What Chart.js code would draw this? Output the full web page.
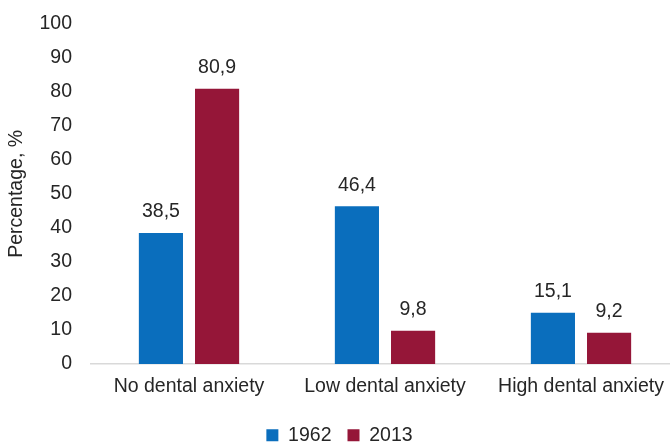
<!DOCTYPE html>
<html>
<head>
<meta charset="utf-8">
<script src="https://cdn.jsdelivr.net/npm/chart.js@4.4.0/dist/chart.umd.min.js"></script>
<style>
  html, body { margin: 0; padding: 0; background: #fff; }
  #wrap { width: 670px; height: 445px; overflow: hidden; }
  #c { display: block; margin-top: -7px; }
</style>
</head>
<body>
<!-- the source chart is cut off on the right edge, so draw a bit larger and clip -->
<div id="wrap"><canvas id="c" width="679" height="462"></canvas></div>
<script>
// Dental anxiety by group, 1962 vs 2013
const categories = ['No dental anxiety', 'Low dental anxiety', 'High dental anxiety'];
const years = ['1962', '2013'];
const values1962 = [38.5, 46.4, 15.1];
const values2013 = [80.9, 9.8, 9.2];
const yTicks = [0, 10, 20, 30, 40, 50, 60, 70, 80, 90, 100];

const FONT = 'Liberation Sans, Arial, sans-serif';
const FS = 19.5;

// value labels above bars (comma decimal)
const barLabels = {
    id: 'barLabels',
    afterDatasetsDraw(chart) {
        const ctx = chart.ctx;
        ctx.save();
        ctx.font = FS + 'px ' + FONT;
        ctx.fillStyle = '#262626';
        ctx.textAlign = 'center';
        ctx.textBaseline = 'middle';
        chart.data.datasets.forEach((ds, i) => {
            chart.getDatasetMeta(i).data.forEach((bar, j) => {
                const txt = ds.data[j].toFixed(1).replace('.', ',');
                ctx.fillText(txt, bar.x, bar.y - 21);
            });
        });
        ctx.restore();
    }
};

new Chart(document.getElementById('c'), {
    type: 'bar',
    data: {
        labels: categories,
        datasets: [
            { label: years[0], data: values1962, backgroundColor: '#0A6EBD' },
            { label: years[1], data: values2013, backgroundColor: '#951638' }
        ]
    },
    options: {
        responsive: false,
        animation: false,
        layout: { padding: 0 },
        datasets: { bar: { categoryPercentage: 0.573, barPercentage: 0.786 } },
        plugins: {
            legend: {
                position: 'bottom',
                labels: {
                    boxWidth: 12, boxHeight: 12, padding: 16,
                    color: '#262626',
                    font: { family: FONT, size: FS }
                }
            },
            tooltip: { enabled: false }
        },
        scales: {
            x: {
                grid: { display: false, drawTicks: false },
                border: { color: '#D9D9D9', width: 1.5 },
                ticks: { color: '#262626', padding: 11, maxRotation: 0, autoSkip: false, font: { family: FONT, size: FS } }
            },
            y: {
                min: 0, max: 100,
                afterBuildTicks: (axis) => { axis.ticks = yTicks.map(v => ({ value: v })); },
                afterFit: (axis) => { axis.width = 91; },
                grid: { display: false, drawTicks: false },
                border: { display: false },
                ticks: { color: '#262626', padding: 19, font: { family: FONT, size: FS } },
                title: {
                    display: true, text: 'Percentage, %', color: '#262626',
                    font: { family: FONT, size: FS }, padding: { top: 5, bottom: 0 }
                }
            }
        }
    },
    plugins: [barLabels]
});
</script>
</body>
</html>
